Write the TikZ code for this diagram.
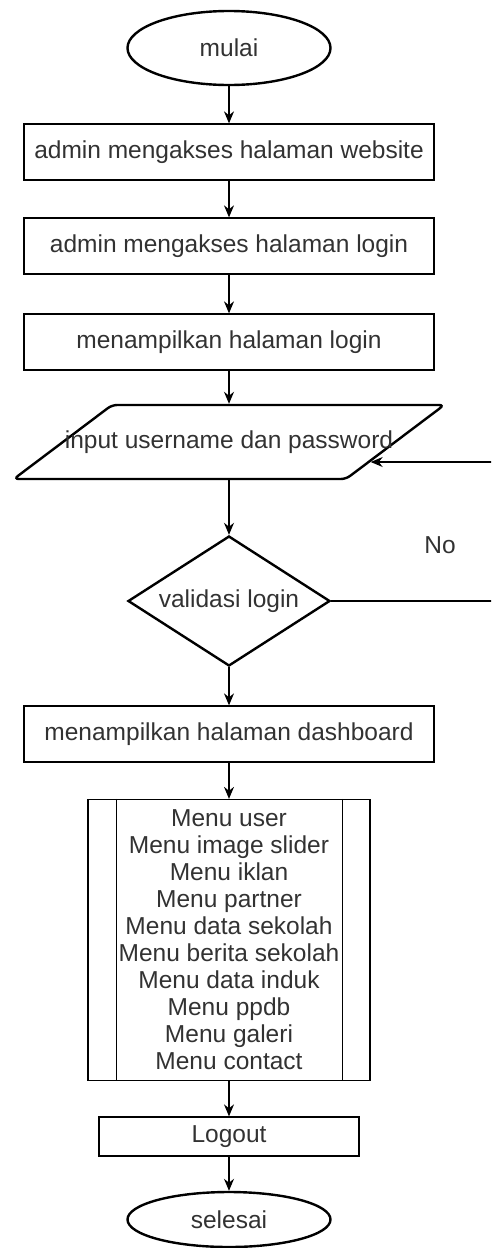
\documentclass[tikz,border=0pt]{standalone}
\usepackage{fontspec}
\setmainfont{Liberation Sans}
\usetikzlibrary{arrows.meta,shapes.geometric}
\definecolor{txtgray}{RGB}{50,50,50}
\newcommand{\flowfont}{\fontsize{24.5}{27}\selectfont}
\tikzset{
    process/.style={rectangle, draw, line width=1.3pt, minimum width=410pt, minimum height=56pt, inner sep=0pt, font=\flowfont, text=txtgray},
    term/.style={ellipse, draw, line width=2.4pt, minimum width=203pt, minimum height=74pt, inner sep=0pt, font=\flowfont, text=txtgray},
    flow/.style={-{Stealth[length=12pt,width=10pt]}, line width=1.3pt}
}

\begin{document}
\begin{tikzpicture}[x=1pt, y=-1pt,
    io/.style={trapezium, trapezium left angle=37, trapezium right angle=143, trapezium stretches=false, draw, line width=2.4pt, rounded corners=5pt, inner xsep=117pt, inner ysep=37pt},
    decision/.style={diamond, aspect=1.55, draw, line width=2.4pt, minimum width=202pt, minimum height=130pt, inner sep=0pt, font=\flowfont, text=txtgray},
    predef/.style={rectangle, draw, line width=1.3pt, minimum width=282pt, minimum height=281pt, inner sep=0pt, align=center, font=\flowfont, text=txtgray},
    lbl/.style={font=\flowfont, text=txtgray}
]
    \useasboundingbox (0,0) rectangle (491,1248);
    \clip (0,0) rectangle (491,1248);

    % Main column
    \node[term] (start) at (229, 48) {mulai};
    \node[process] (web) at (229, 152) {admin mengakses halaman website};
    \node[process] (login) at (229, 246) {admin mengakses halaman login};
    \node[process] (show) at (229, 342) {menampilkan halaman login};
    \node[io, label={[lbl]center:input username dan password}] (input) at (229, 442) {};
    \node[decision] (valid) at (229, 601) {validasi login};
    \node[process] (dash) at (229, 734) {menampilkan halaman dashboard};

    % Menu (predefined process)
    \node[predef] (menu) at (229, 940) {Menu user\\Menu image slider\\Menu iklan\\Menu partner\\Menu data sekolah\\Menu berita sekolah\\Menu data induk\\Menu ppdb\\Menu galeri\\Menu contact};
    \draw[line width=1.3pt] ([xshift=29pt]menu.north west) -- ([xshift=29pt]menu.south west);
    \draw[line width=1.3pt] ([xshift=-28pt]menu.north east) -- ([xshift=-28pt]menu.south east);

    \node[process, minimum width=260pt, minimum height=39pt] (logout) at (229, 1136.5) {Logout};
    \node[term, minimum height=55pt] (stop) at (229, 1219.5) {selesai};

    % Arrows
    \draw[flow] (start) -- (web);
    \draw[flow] (web) -- (login);
    \draw[flow] (login) -- (show);
    \draw[flow] (show) -- (input);
    \draw[flow] (input.south) -- (valid.north);
    \draw[flow] (valid.south) -- (dash.north);
    \draw[flow] (dash) -- (menu);
    \draw[flow] (menu) -- (logout);
    \draw[flow] (logout) -- (stop);

    % Loop back (No)
    \coordinate (loop) at (505, 462);
    \draw[line width=1.3pt] (valid.east) -- (valid.east -| loop) -- (loop);
    \draw[flow] (loop) -- (input.-8 |- loop);
    \node[lbl] (no) at (440, 545) {No};
\end{tikzpicture}
\end{document}
